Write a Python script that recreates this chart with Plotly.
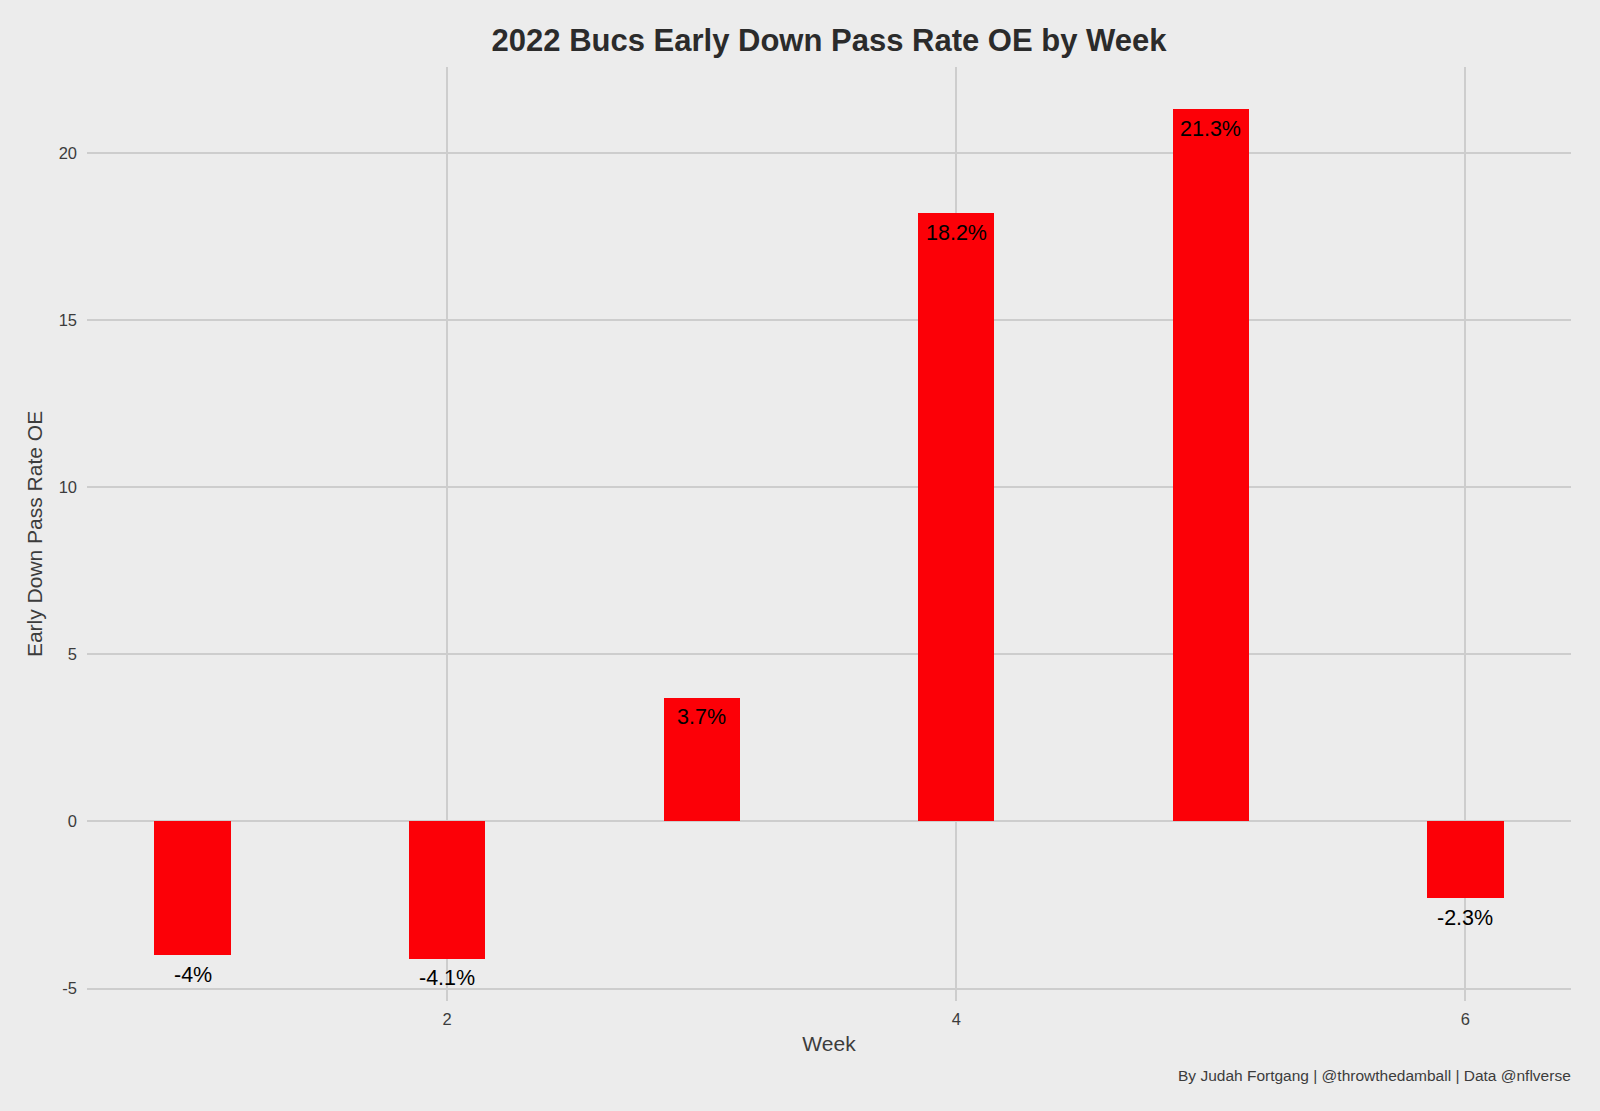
import plotly.graph_objects as go

weeks = [1, 2, 3, 4, 5, 6]
pass_rate_oe = [-4.0, -4.1, 3.7, 18.2, 21.3, -2.3]
labels = ["-4%", "-4.1%", "3.7%", "18.2%", "21.3%", "-2.3%"]
x_ticks = [2, 4, 6]
y_ticks = [-5, 0, 5, 10, 15, 20]

FONT = "Liberation Sans, Arial, Helvetica, sans-serif"
BG = "#ececec"
GRID = "#cdcdcd"
TXT = "#3c3c3c"

fig = go.Figure()
fig.add_trace(go.Bar(
    x=weeks, y=pass_rate_oe, width=0.3,
    marker=dict(color="#fc0007", line=dict(width=0)),
    showlegend=False, hoverinfo="x+y",
))

for w, v, lab in zip(weeks, pass_rate_oe, labels):
    fig.add_annotation(
        x=w, y=v, text=lab, showarrow=False,
        xanchor="center", yanchor="middle", yshift=-19.5,
        font=dict(family=FONT, size=21.5, color="#000000"),
    )

fig.update_layout(
    width=1600, height=1111,
    paper_bgcolor=BG, plot_bgcolor=BG,
    margin=dict(l=87, r=29, t=67, b=110),
    font=dict(family=FONT, color=TXT),
    title=dict(text="<b>2022 Bucs Early Down Pass Rate OE by Week</b>",
               x=(87 + 1571) / 2 / 1600, xanchor="center",
               y=1 - 40 / 1111, yanchor="middle",
               font=dict(family=FONT, size=31, color="#2b2b2b")),
    bargap=0,
)
fig.update_xaxes(
    range=[0.585, 6.415], tickvals=x_ticks, ticktext=[str(t) for t in x_ticks],
    showgrid=True, gridcolor=GRID, gridwidth=2, zeroline=False, showline=False,
    ticks="", tickfont=dict(size=16.5, color=TXT), ticklabelstandoff=6,
    title=dict(text="Week", font=dict(size=21, color=TXT), standoff=9),
)
fig.update_yaxes(
    range=[-5.37, 22.57], tickvals=y_ticks, ticktext=[str(t) for t in y_ticks],
    showgrid=True, gridcolor=GRID, gridwidth=2, zeroline=False, showline=False,
    ticks="", tickfont=dict(size=16.5, color=TXT), ticklabelstandoff=9,
    title=dict(text="Early Down Pass Rate OE", font=dict(size=21, color=TXT), standoff=10),
)
fig.add_annotation(
    text="By Judah Fortgang | @throwthedamball | Data @nflverse",
    xref="paper", yref="paper", x=1, y=-(1075 - 1001) / (1111 - 67 - 110),
    xanchor="right", yanchor="middle", showarrow=False, xshift=2,
    font=dict(family=FONT, size=15.5, color=TXT),
)

fig.write_html("out.html", config={"displayModeBar": False},
               post_script="document.body.style.margin='0';document.body.style.overflow='hidden';")
